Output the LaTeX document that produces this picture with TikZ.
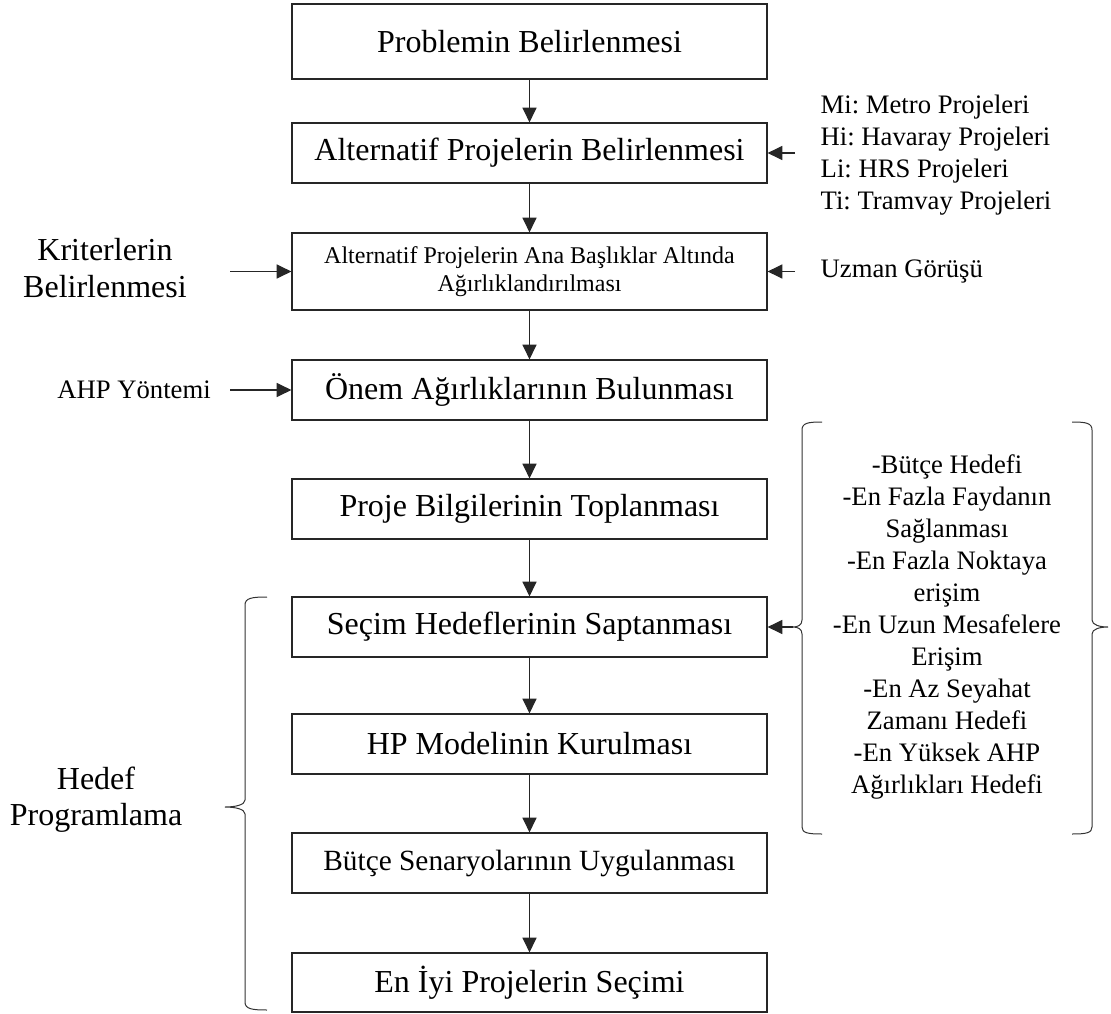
\documentclass[tikz,border=0pt]{standalone}
\usepackage{fontspec}
\setmainfont{Liberation Serif}
\usetikzlibrary{arrows.meta}
\frenchspacing
\begin{document}
\begin{tikzpicture}[x=0.75pt,y=-0.75pt,
  stepbox/.style={draw=black!85, line width=0.9pt, minimum width=356.25pt,
    minimum height=45pt, inner sep=0pt, align=center,
    font=\fontsize{24}{28}\selectfont},
  smalltext/.style={font=\fontsize{20}{24}\selectfont},
  bigtext/.style={align=center, font=\fontsize{24}{28}\selectfont},
  arr/.style={line width=0.9pt, draw=black!85, -{Triangle[length=11pt,width=10.5pt]}},
  brc/.style={line width=0.75pt, draw=black!80}]
\useasboundingbox (0,0) rectangle (1111,1014);

% main flow
\node[stepbox, minimum height=56.25pt] (b1) at (529.5,41.5) {Problemin Belirlenmesi};
\node[stepbox] (b2) at (529.5,153) {Alternatif Projelerin Belirlenmesi};
\node[stepbox, minimum height=57.75pt, font=\fontsize{18}{21}\selectfont] (b3) at (529.5,271.5)
  {Alternatif Projelerin Ana Başlıklar Altında\\Ağırlıklandırılması};
\node[stepbox] (b4) at (529.5,390) {Önem Ağırlıklarının Bulunması};
\node[stepbox] (b5) at (529.5,509) {Proje Bilgilerinin Toplanması};
\node[stepbox] (b6) at (529.5,627) {Seçim Hedeflerinin Saptanması};
\node[stepbox] (b7) at (529.5,744) {HP Modelinin Kurulması};
\node[stepbox, font=\fontsize{22}{26}\selectfont] (b8) at (529.5,863) {Bütçe Senaryolarının Uygulanması};
\node[stepbox, minimum height=44.25pt] (b9) at (529.5,982.5) {En İyi Projelerin Seçimi};

\draw[arr] (b1) -- (b2);
\draw[arr] (b2) -- (b3);
\draw[arr] (b3) -- (b4);
\draw[arr] (b4) -- (b5);
\draw[arr] (b5) -- (b6);
\draw[arr] (b6) -- (b7);
\draw[arr] (b7) -- (b8);
\draw[arr] (b8) -- (b9);

% right-hand inputs
\node[smalltext, anchor=west, align=left, font=\fontsize{20}{24}\selectfont] (alts) at (816,155)
  {Mi: Metro Projeleri\\Hi: Havaray Projeleri\\Li: HRS Projeleri\\Ti: Tramvay Projeleri};
\coordinate (altsin) at (795,153);
\draw[arr] (altsin) -- (b2.east);

\node[smalltext, anchor=west] (uzman) at (816,272) {Uzman Görüşü};
\coordinate (uzmanin) at (795,271.5);
\draw[arr] (uzmanin) -- (b3.east);

% left-hand inputs
\node[bigtext, font=\fontsize{24}{28}\selectfont] (krit) at (105,268) {Kriterlerin\\Belirlenmesi};
\coordinate (kritin) at (230,271.5);
\draw[arr] (kritin) -- (b3.west);

\node[smalltext] (ahp) at (134,390) {AHP Yöntemi};
\coordinate (ahpin) at (230,390);
\draw[arr] (ahpin) -- (b4.west);

% goal programming group
\node[bigtext, font=\fontsize{24}{27}\selectfont] (hedef) at (96,800) {Hedef\\Programlama};
\draw[brc] (267,597) .. controls (252,597) and (245,598) .. (245,605)
  -- (245,800) .. controls (245,805) and (235,807) .. (225,807)
  .. controls (235,807) and (245,809) .. (245,814)
  -- (245,1002) .. controls (245,1009) and (252,1010) .. (267,1010);

% selection goals list
\node[align=center, font=\fontsize{20}{24}\selectfont] (goals) at (947,627)
  {-Bütçe Hedefi\\-En Fazla Faydanın\\Sağlanması\\-En Fazla Noktaya\\erişim\\-En Uzun Mesafelere\\Erişim\\-En Az Seyahat\\Zamanı Hedefi\\-En Yüksek AHP\\Ağırlıkları Hedefi};
\coordinate (gtip) at (793,627);
\draw[brc] (822,422) .. controls (808,422) and (802,423) .. (802,430)
  -- (802,620) .. controls (802,625) and (798,627) .. (gtip)
  .. controls (798,627) and (802,629) .. (802,634)
  -- (802,827) .. controls (802,833) and (808,834) .. (822,834);
\draw[brc] (1072,422) .. controls (1086,422) and (1092,423) .. (1092,430)
  -- (1092,620) .. controls (1092,625) and (1100,627) .. (1108,627)
  .. controls (1100,627) and (1092,629) .. (1092,634)
  -- (1092,827) .. controls (1092,833) and (1086,834) .. (1072,834);
\draw[arr] (gtip) -- (b6.east);
\end{tikzpicture}
\end{document}
